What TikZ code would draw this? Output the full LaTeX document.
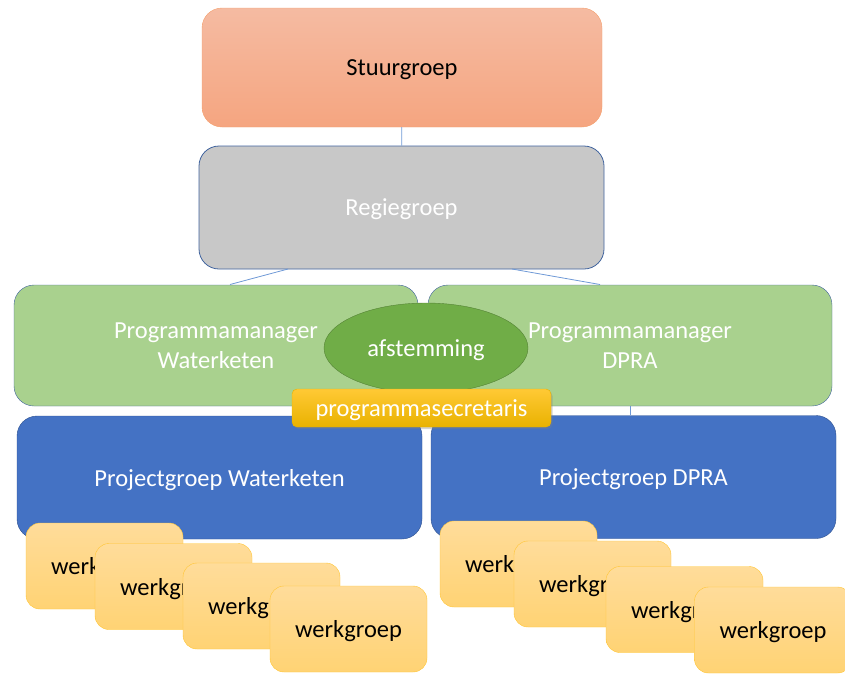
\documentclass[tikz,border=0pt]{standalone}
\usepackage{fontspec}
\setmainfont{Carlito}
\usetikzlibrary{positioning}
\usetikzlibrary{shapes.geometric}
\usetikzlibrary{shadows}

\definecolor{stuurtop}{HTML}{F5BBA2}
\definecolor{stuurbot}{HTML}{F5A580}
\definecolor{stuurline}{HTML}{F4A06E}
\definecolor{regiefill}{HTML}{C8C8C8}
\definecolor{boxline}{HTML}{41649E}
\definecolor{pmfill}{HTML}{A9D18E}
\definecolor{afsfill}{HTML}{70AD47}
\definecolor{afsline}{HTML}{548235}
\definecolor{projfill}{HTML}{4472C4}
\definecolor{projline}{HTML}{2F528F}
\definecolor{sectop}{HTML}{FFC935}
\definecolor{secbot}{HTML}{E9B200}
\definecolor{werktop}{HTML}{FFDC9A}
\definecolor{werkbot}{HTML}{FFD374}
\definecolor{werkline}{HTML}{FFC533}
\definecolor{connline}{HTML}{6F99D6}

\tikzset {
  % base style for all boxes
  org node/.style = {
    rectangle,
    rounded corners = 20pt,
    inner sep = 0,
    align = center,
    text depth = 0pt,
    font = \fontsize{24.5}{30}\selectfont
  },
  % top level
  stuur/.style = {
    org node,
    draw = stuurline,
    top color = stuurtop,
    bottom color = stuurbot,
    minimum width = 400pt,
    minimum height = 119pt
  },
  regie/.style = {
    org node,
    draw = boxline,
    thick,
    fill = regiefill,
    text = white,
    minimum width = 405pt,
    minimum height = 123pt
  },
  % programme managers
  manager/.style = {
    org node,
    draw = boxline,
    fill = pmfill,
    text = white,
    minimum width = 404pt,
    minimum height = 121pt
  },
  project/.style = {
    org node,
    draw = projline,
    fill = projfill,
    text = white,
    minimum width = 405pt,
    minimum height = 123pt
  },
  % small stacked boxes
  werk/.style = {
    org node,
    rounded corners = 14pt,
    draw = werkline,
    top color = werktop,
    bottom color = werkbot,
    minimum width = 157pt,
    minimum height = 86pt
  },
  overleg/.style = {
    ellipse,
    draw = afsline,
    fill = afsfill,
    text = white,
    inner sep = 0,
    text depth = 0pt,
    minimum width = 204pt,
    minimum height = 90pt,
    font = \fontsize{24.5}{30}\selectfont
  },
  secretaris/.style = {
    rectangle,
    rounded corners = 5pt,
    draw = secbot,
    top color = sectop,
    bottom color = secbot,
    text = white,
    inner sep = 0,
    text depth = 0pt,
    minimum width = 259pt,
    minimum height = 38pt,
    drop shadow = {opacity = 0.35, shadow xshift = 1.5pt, shadow yshift = -2pt},
    font = \fontsize{24.5}{30}\selectfont
  },
  conn/.style = {
    draw = connline,
    line width = 0.8pt
  }
}

\begin{document}
\begin{tikzpicture}[x=1pt, y=-1pt]
    \useasboundingbox (0,0) rectangle (845,675);

    \node[stuur] (stuurgroep) at (402,67.5) {Stuurgroep};
    \node[regie] (regiegroep) at (401.5,207.5) {Regiegroep};

    \node[manager] (pm water) at (216,345.5) {Programmamanager\\Waterketen};
    \node[manager] (pm dpra) at (630,345.5) {Programmamanager\\DPRA};

    \node[project] (pg water) at (219.5,477.5) {Projectgroep Waterketen};
    \node[project] (pg dpra) at (633.5,477) {Projectgroep DPRA};

    % connection points
    \coordinate (regie-left) at (288,269);
    \coordinate (regie-right) at (512,269);
    \coordinate (water-top) at (230,284.5);
    \coordinate (dpra-top) at (600,284.5);

    \draw[conn] (stuurgroep) -- (regiegroep);
    \draw[conn] (regie-left) -- (water-top);
    \draw[conn] (regie-right) -- (dpra-top);
    \draw[conn] (pm dpra.south) -- (pm dpra.south |- pg dpra.north);

    \node[overleg] (afstemming) at (426,348) {afstemming};
    \node[secretaris] (secr) at (421.5,408) {programmasecretaris};

    % werkgroepen Waterketen
    \node[werk] (werk w1) at (104.5,566) {werkgroep};
    \node[werk] (werk w2) at (173.5,586.5) {werkgroep};
    \node[werk] (werk w3) at (261.5,606) {werkgroep};
    \node[werk] (werk w4) at (348.5,629) {werkgroep};

    % werkgroepen DPRA
    \node[werk] (werk d1) at (518.5,564) {werkgroep};
    \node[werk] (werk d2) at (592.5,584) {werkgroep};
    \node[werk] (werk d3) at (684.5,609.5) {werkgroep};
    \node[werk] (werk d4) at (773,630) {werkgroep};
\end{tikzpicture}
\end{document}
